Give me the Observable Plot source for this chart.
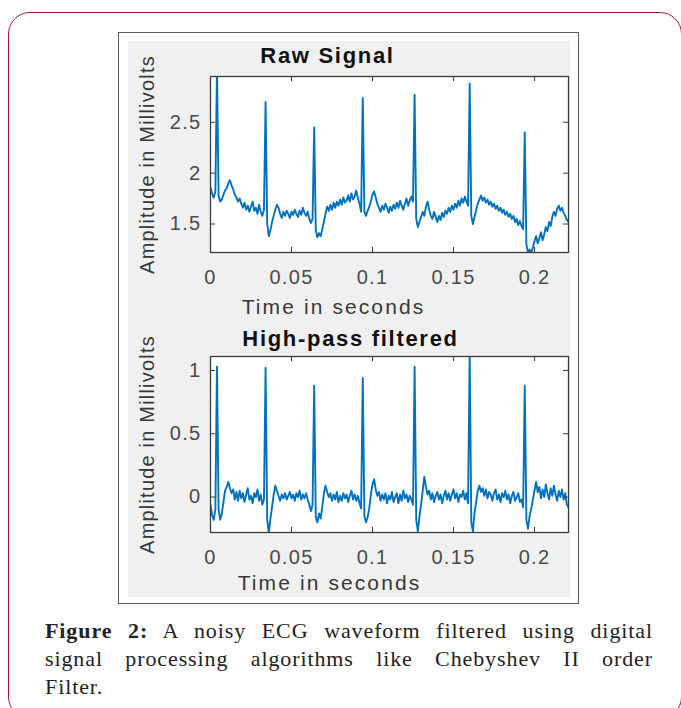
<!DOCTYPE html>
<html>
<head>
<meta charset="utf-8">
<script src="https://cdn.jsdelivr.net/npm/d3@7"></script>
<script src="https://cdn.jsdelivr.net/npm/@observablehq/plot@0.6"></script>
<style>
  html, body { margin: 0; padding: 0; background: #fff; }
  body { width: 681px; height: 708px; position: relative; overflow: hidden; }
  #frame { position: absolute; left: 8px; top: 12px; width: 674px; height: 707px; border: 1.6px solid #a3173f; border-radius: 22px; box-sizing: border-box; }
  #panel { position: absolute; left: 118px; top: 32px; width: 461px; height: 572px; border: 1.2px solid #5a5a5a; box-sizing: border-box; background: #fff; }
  #panelFill { position: absolute; left: 128px; top: 41px; width: 442px; height: 556px; background: #f0f0f0; }
  .plot { position: absolute; left: 0; }
  #caption { position: absolute; left: 45px; top: 617px; width: 608px; font-family: "Liberation Serif", "Times New Roman", serif; font-size: 22px; line-height: 28px; color: #222; letter-spacing: 0.9px; }
  #caption .jl { text-align: justify; text-align-last: justify; white-space: nowrap; }
</style>
</head>
<body>
<div id="frame"></div>
<div id="panel"></div>
<div id="panelFill"></div>
<div id="plots"></div>
<div id="caption">
  <div class="jl"><b>Figure 2:</b> A noisy ECG waveform filtered using digital</div>
  <div class="jl">signal processing algorithms like Chebyshev II order</div>
  <div>Filter.</div>
</div>
<script>
// ---- data ----
const sampleInterval = 0.001; // seconds between samples

const rawSignal = [
  1.86, 1.80, 1.76, 1.82, 3.02, 1.78, 1.72, 1.74, 1.79, 1.83,
  1.85, 1.90, 1.93, 1.88, 1.84, 1.79, 1.76, 1.72, 1.75, 1.70,
  1.66, 1.71, 1.64, 1.68, 1.62, 1.67, 1.72, 1.63, 1.66, 1.60,
  1.69, 1.62, 1.58, 1.64, 2.70, 1.50, 1.38, 1.44, 1.52, 1.58,
  1.64, 1.69, 1.66, 1.60, 1.56, 1.62, 1.58, 1.63, 1.60, 1.56,
  1.62, 1.59, 1.64, 1.60, 1.57, 1.63, 1.59, 1.66, 1.61, 1.58,
  1.62, 1.55, 1.51, 1.55, 2.45, 1.44, 1.37, 1.41, 1.38, 1.45,
  1.52, 1.60, 1.67, 1.63, 1.69, 1.64, 1.71, 1.66, 1.72, 1.68,
  1.74, 1.69, 1.76, 1.71, 1.73, 1.78, 1.72, 1.80, 1.74, 1.77,
  1.83, 1.75, 1.70, 1.62, 2.74, 1.62, 1.58, 1.63, 1.67, 1.72,
  1.79, 1.82, 1.76, 1.70, 1.66, 1.62, 1.68, 1.64, 1.70, 1.66,
  1.61, 1.67, 1.63, 1.69, 1.65, 1.71, 1.66, 1.73, 1.68, 1.64,
  1.70, 1.75, 1.68, 1.73, 1.77, 1.72, 2.77, 1.55, 1.47, 1.52,
  1.57, 1.62, 1.58, 1.67, 1.72, 1.64, 1.58, 1.55, 1.62, 1.57,
  1.52, 1.58, 1.54, 1.61, 1.57, 1.63, 1.60, 1.66, 1.62, 1.68,
  1.64, 1.70, 1.66, 1.73, 1.68, 1.75, 1.71, 1.77, 1.72, 1.68,
  2.88, 1.58, 1.50, 1.57, 1.64, 1.70, 1.74, 1.78, 1.73, 1.76,
  1.71, 1.74, 1.69, 1.72, 1.67, 1.70, 1.65, 1.68, 1.63, 1.66,
  1.61, 1.64, 1.59, 1.62, 1.57, 1.60, 1.55, 1.58, 1.52, 1.55,
  1.49, 1.53, 1.48, 1.45, 2.40, 1.30, 1.22, 1.25, 1.21, 1.27,
  1.33, 1.38, 1.31, 1.36, 1.42, 1.34, 1.40, 1.47, 1.43, 1.52,
  1.48, 1.57, 1.62, 1.58, 1.65, 1.68, 1.63, 1.66, 1.61, 1.58,
  1.54, 1.52
];

const filteredSignal = [
  -0.06, -0.14, -0.18, -0.10, 1.03, -0.10, -0.18, -0.13, -0.04, 0.05,
  0.08, 0.12, 0.07, 0.03, 0.06, -0.02, 0.04, -0.03, 0.05, -0.01,
  0.03, -0.04, 0.02, 0.07, -0.02, 0.01, -0.05, 0.03, 0.00, 0.06,
  -0.03, 0.02, -0.06, -0.02, 1.02, -0.18, -0.28, -0.17, -0.08, 0.02,
  0.09, 0.05, 0.01, -0.03, 0.02, -0.01, 0.03, -0.02, 0.01, 0.04,
  -0.01, 0.02, -0.03, 0.03, 0.00, 0.05, -0.02, 0.02, -0.01, 0.03,
  -0.02, -0.06, -0.11, -0.06, 0.88, -0.16, -0.20, -0.13, -0.17, -0.08,
  0.03, 0.09, 0.04, 0.00, 0.03, -0.03, 0.02, -0.02, 0.04, -0.04,
  0.01, -0.03, 0.03, -0.01, 0.02, -0.04, 0.01, 0.05, -0.02, 0.02,
  -0.03, 0.01, -0.05, -0.09, 0.94, -0.15, -0.20, -0.16, -0.09, 0.02,
  0.10, 0.14, 0.06, 0.01, 0.04, -0.03, 0.02, -0.02, 0.03, -0.05,
  0.01, -0.02, 0.04, -0.04, 0.00, 0.03, -0.05, 0.02, -0.03, 0.05,
  -0.01, 0.02, -0.04, 0.01, -0.02, -0.06, 1.03, -0.18, -0.27, -0.15,
  -0.06, 0.05, 0.16, 0.08, 0.02, 0.05, -0.02, 0.03, -0.04, 0.01,
  0.04, -0.02, 0.02, -0.05, 0.01, 0.05, -0.02, 0.03, -0.03, 0.02,
  0.06, -0.01, 0.03, -0.04, 0.02, 0.00, 0.05, -0.02, 0.03, -0.05,
  1.13, -0.20, -0.27, -0.12, -0.04, 0.05, 0.09, 0.04, 0.07, 0.01,
  0.06, -0.01, 0.04, 0.02, -0.03, 0.03, 0.06, -0.02, 0.02, -0.04,
  0.03, 0.00, 0.05, -0.02, 0.02, -0.05, 0.01, 0.04, -0.03, 0.00,
  0.03, -0.04, -0.02, -0.08, 0.88, -0.18, -0.25, -0.15, -0.09, -0.02,
  0.05, 0.12, 0.04, 0.08, -0.01, 0.06, 0.00, 0.10, 0.03, -0.02,
  0.07, 0.01, 0.09, 0.02, -0.03, 0.05, 0.00, 0.06, -0.02, 0.03,
  -0.06, -0.08
];

const xDomain = [0, 0.221];
const xTicks = [0, 0.05, 0.1, 0.15, 0.2];
const xTickLabels = ["0", "0.05", "0.1", "0.15", "0.2"];

const rawYDomain = [1.22, 2.95];
const rawYTicks = [1.5, 2, 2.5];
const rawYTickLabels = ["1.5", "2", "2.5"];

const filteredYDomain = [-0.28, 1.11];
const filteredYTicks = [0, 0.5, 1];
const filteredYTickLabels = ["0", "0.5", "1"];

const titles = ["Raw Signal", "High-pass filtered"];
const xLabel = "Time in seconds";
const yLabel = "Amplitude in Millivolts";

// ---- drawing ----
const W = 681, mL = 210, mR = 113, tickLen = 5;
const lineColor = "#0072BD", axisColor = "#3a3a3a", tickText = "#4a4a4a";

function panel({values, yDomain, yTicks, yTickLabels, title, height, marginTop, marginBottom, titleDx, titleDy, xLabelDx, xLabelDy}) {
  const data = values.map((v, i) => ({t: i * sampleInterval, v}));
  const innerH = height - marginTop - marginBottom;
  const innerW = W - mL - mR;
  const svg = Plot.plot({
    width: W, height, marginLeft: mL, marginRight: mR, marginTop, marginBottom,
    x: {domain: xDomain, axis: null},
    y: {domain: yDomain, axis: null},
    style: {background: "transparent", overflow: "visible", fontFamily: "'Liberation Sans', Arial, sans-serif"},
    marks: [
      Plot.frame({fill: "white", stroke: null}),
      Plot.line(data, {x: "t", y: "v", stroke: lineColor, strokeWidth: 1.9, clip: true}),
      Plot.frame({stroke: axisColor, strokeWidth: 1.3}),
      Plot.tickX(xTicks, {x: d => d, insetTop: innerH - tickLen, stroke: axisColor}),
      Plot.tickX(xTicks, {x: d => d, insetBottom: innerH - tickLen, stroke: axisColor}),
      Plot.tickY(yTicks, {y: d => d, insetRight: innerW - tickLen, stroke: axisColor}),
      Plot.tickY(yTicks, {y: d => d, insetLeft: innerW - tickLen, stroke: axisColor}),
      Plot.text(xTicks, {x: d => d, text: (d, i) => xTickLabels[i], frameAnchor: "bottom", dy: 25, lineAnchor: "middle", textAnchor: "middle", fill: tickText, fontSize: 20}),
      Plot.text(yTicks, {y: d => d, text: (d, i) => yTickLabels[i], frameAnchor: "left", dx: -9, textAnchor: "end", lineAnchor: "middle", fill: tickText, fontSize: 20}),
      Plot.text([title], {text: d => d, frameAnchor: "top", dx: titleDx, dy: titleDy, textAnchor: "middle", lineAnchor: "bottom", fontWeight: "bold", fontSize: 22, fill: "#111"}),
      Plot.text([xLabel], {text: d => d, frameAnchor: "bottom", dx: xLabelDx, dy: xLabelDy, textAnchor: "middle", lineAnchor: "bottom", fontSize: 21, fill: "#383838"}),
      Plot.text([yLabel], {text: d => d, frameAnchor: "left", dx: -63, rotate: -90, textAnchor: "middle", lineAnchor: "middle", fontSize: 20, fill: "#383838"})
    ]
  });
  // letter spacing to match the slightly stretched lettering of the reference
  const tickSet = new Set([...xTickLabels, ...yTickLabels]);
  svg.querySelectorAll("text").forEach(t => {
    const s = t.textContent;
    let ls = null;
    if (titles.includes(s)) ls = "1.7px";
    else if (s === xLabel) ls = "2.1px";
    else if (s === yLabel) ls = "1.2px";
    else if (tickSet.has(s)) ls = "1.3px";
    if (ls) t.style.letterSpacing = ls;
  });
  return svg;
}

const top1 = panel({values: rawSignal, yDomain: rawYDomain, yTicks: rawYTicks, yTickLabels: rawYTickLabels,
  title: titles[0], height: 300, marginTop: 76, marginBottom: 48, titleDx: -62, titleDy: -14, xLabelDx: -56, xLabelDy: 61});
top1.classList.add("plot"); top1.style.top = "0px";

const bottom1 = panel({values: filteredSignal, yDomain: filteredYDomain, yTicks: filteredYTicks, yTickLabels: filteredYTickLabels,
  title: titles[1], height: 310, marginTop: 56, marginBottom: 78, titleDx: -39, titleDy: -11, xLabelDx: -60, xLabelDy: 57});
bottom1.classList.add("plot"); bottom1.style.top = "300px";

const host = document.getElementById("plots");
host.appendChild(top1);
host.appendChild(bottom1);
</script>
</body>
</html>
